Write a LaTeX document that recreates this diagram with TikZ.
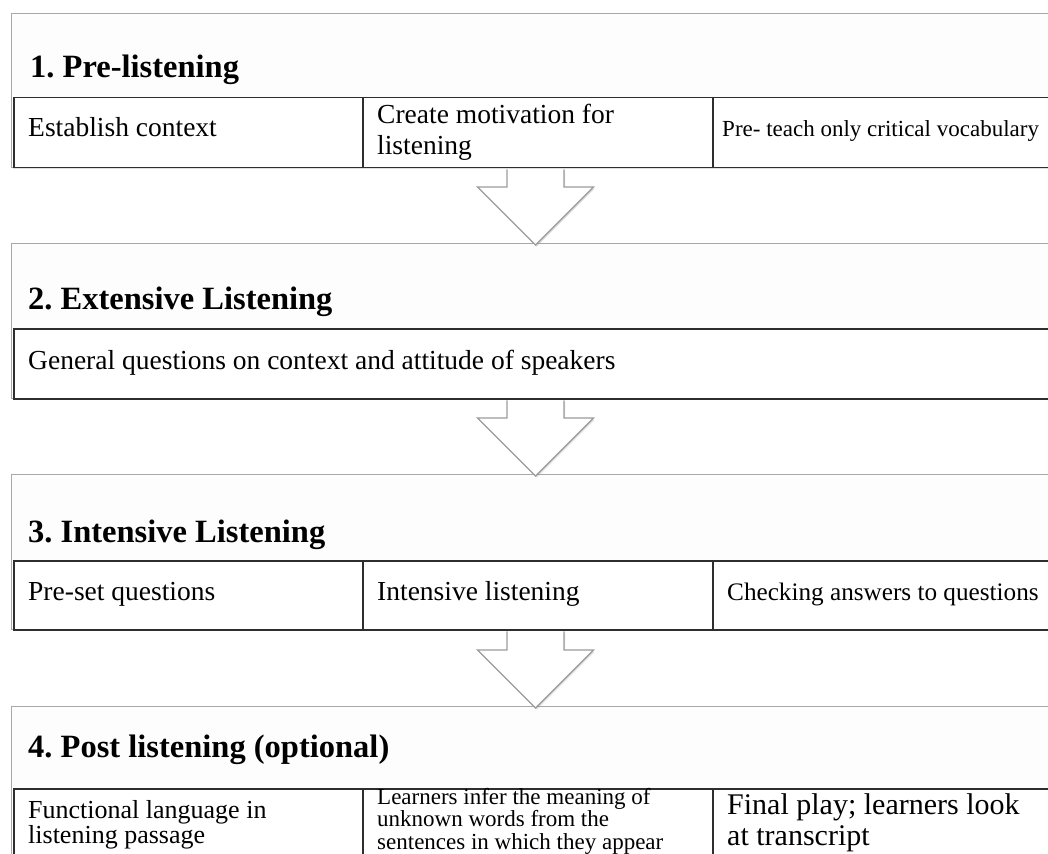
\documentclass[tikz,border=0pt]{standalone}
\usepackage{fontspec}
\setmainfont{Liberation Serif}
\usetikzlibrary{shadows,calc}
\frenchspacing
\definecolor{boxgray}{HTML}{A8A8A8}
\definecolor{boxfill}{HTML}{FDFDFD}
\definecolor{cellline}{HTML}{2E2E2E}
\definecolor{arrowgray}{HTML}{9C9C9C}
\tikzset{
  stagebox/.style={draw=boxgray, line width=1.3pt, fill=boxfill, anchor=north west, inner sep=0pt,
    drop shadow={opacity=0.25, shadow xshift=1.2pt, shadow yshift=-1.5pt}},
  rowcell/.style={draw=cellline, line width=1.5pt, fill=white, anchor=north west, inner sep=0pt},
  stagetitle/.style={anchor=base west, inner sep=0pt, font=\fontsize{32.5}{36}\selectfont\bfseries},
  bodytext/.style={anchor=base west, inner sep=0pt, font=\fontsize{27.5}{31}\selectfont},
  smalltext/.style={anchor=base west, inner sep=0pt, font=\fontsize{23}{22.5}\selectfont},
  flowarrow/.style={draw=arrowgray, line width=1.2pt, fill=white, line join=miter,
    drop shadow={opacity=0.3, shadow xshift=1pt, shadow yshift=-1.5pt}}
}
\newcommand\blockarrow[2]{%
  \path (xa |- #1) coordinate (atop) (xa |- #2) coordinate (abot);
  \draw[flowarrow] ($(atop)+(-28.5,0.9)$) -- ($(abot)+(-28.5,-56)$) -- ($(abot)+(-58,-56)$)
    -- ($(abot)+(0,2)$) -- ($(abot)+(58,-56)$) -- ($(abot)+(28.5,-56)$) -- ($(atop)+(28.5,0.9)$);
}
\newcommand\twolines[2]{\begin{tabular}[t]{@{}l@{}}#1\\#2\end{tabular}}
\newcommand\threelines[3]{\begin{tabular}[t]{@{}l@{}}#1\\#2\\#3\end{tabular}}
\begin{document}
\begin{tikzpicture}[x=1pt,y=-1pt]
\useasboundingbox (0,0) rectangle (1048,853);
\clip (0,0) rectangle (1048,853);
\fill[white] (0,0) rectangle (1048,853);
\coordinate (xa) at (535.5,0);

% Stage 1
\node[stagebox, minimum width=1070pt, minimum height=154pt] (s1) at (11,13) {};
\node[rowcell, minimum width=349pt, minimum height=70pt] (c11) at (13,97) {};
\node[rowcell, minimum width=350pt, minimum height=70pt] (c12) at (362,97) {};
\node[rowcell, minimum width=360pt, minimum height=70pt] (c13) at (712,97) {};
\node[stagetitle] (h1) at (30,78) {1. Pre-listening};
\node[bodytext] (t11) at (28,137) {Establish context};
\node[bodytext] (t12) at (377,124) {\twolines{Create motivation for}{listening}};
\node[smalltext] (t13) at (722,137) {Pre- teach only critical vocabulary};

% Stage 2
\node[stagebox, minimum width=1070pt, minimum height=155pt] (s2) at (11,243) {};
\node[rowcell, minimum width=1060pt, minimum height=70pt] (c21) at (13,328) {};
\node[stagetitle] (h2) at (28,309) {2. Extensive Listening};
\node[bodytext] (t21) at (28,369) {General questions on context and attitude of speakers};

% Stage 3
\node[stagebox, minimum width=1070pt, minimum height=155pt] (s3) at (11,474) {};
\node[rowcell, minimum width=349pt, minimum height=69pt] (c31) at (13,560) {};
\node[rowcell, minimum width=350pt, minimum height=69pt] (c32) at (362,560) {};
\node[rowcell, minimum width=360pt, minimum height=69pt] (c33) at (712,560) {};
\node[stagetitle] (h3) at (28,542) {3. Intensive Listening};
\node[bodytext] (t31) at (28,600) {Pre-set questions};
\node[bodytext] (t32) at (377,600) {Intensive listening};
\node[bodytext, font=\fontsize{25.2}{30}\selectfont] (t33) at (727,600) {Checking answers to questions};

% Stage 4
\node[stagebox, minimum width=1070pt, minimum height=200pt] (s4) at (11,706) {};
\node[rowcell, minimum width=349pt, minimum height=110pt] (c41) at (13,788) {};
\node[rowcell, minimum width=350pt, minimum height=110pt] (c42) at (362,788) {};
\node[rowcell, minimum width=360pt, minimum height=110pt] (c43) at (712,788) {};
\node[stagetitle] (h4) at (28,757) {4. Post listening (optional)};
\node[bodytext, font=\fontsize{26}{24.5}\selectfont] (t41) at (28,818) {\twolines{Functional language in}{listening passage}};
\node[smalltext] (t42) at (377,804) {\threelines{Learners infer the meaning of}{unknown words from the}{sentences in which they appear}};
\node[bodytext, font=\fontsize{30}{31}\selectfont] (t43) at (727,814) {\twolines{Final play; learners look}{at transcript}};

% Arrows
\blockarrow{c12.south}{s2.north}
\blockarrow{c21.south}{s3.north}
\blockarrow{c32.south}{s4.north}
\end{tikzpicture}
\end{document}
